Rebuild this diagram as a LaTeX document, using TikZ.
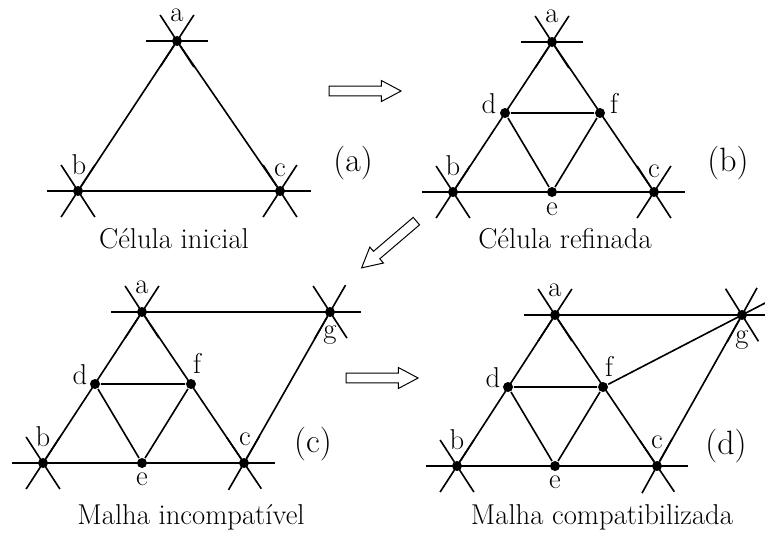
\documentclass[tikz,border=0pt]{standalone}
\usepackage{tikz,fontspec}
\usetikzlibrary{calc,shapes.arrows}

\tikzset{
  dot/.style={circle,fill,inner sep=0pt,minimum size=2.5mm},
  lbl/.style={anchor=base,inner sep=0pt,font=\fontsize{20.4}{24}\selectfont},
  tag/.style={anchor=center,inner sep=0pt,font=\fontsize{24}{28}\selectfont},
  fatarrow/.style={single arrow,draw,fill=white,line width=.7pt,inner sep=1.1mm,
    minimum height=18mm,single arrow head extend=1.4mm,single arrow tip angle=56}
}
% three short lines through a corner vertex
\newcommand{\vstar}[2][0,57,123]{\foreach \ang in {#1} \draw (#2.center) -- ++(\ang:31) (#2.center) -- ++(\ang+180:31);}

\begin{document}
\begin{tikzpicture}[x=.25mm,y=-.25mm,line width=1.15pt]
\path[use as bounding box] (0,0) rectangle (765,534);
% (a) initial cell
\node[dot] (a1) at (177,41) {};
\node[dot] (b1) at (78,191) {};
\node[dot] (c1) at (280,191) {};
\draw (a1) -- (b1) -- (c1) -- (a1);
\vstar{a1} \vstar{b1} \vstar{c1}
\node[lbl] (la1) at ($(a1)+(0,-20)$) {a};
\node[lbl] (lb1) at ($(b1)+(1,-17)$) {b};
\node[lbl] (lc1) at ($(c1)+(0,-15)$) {c};
\node[tag] (tag1) at (353,163) {(a)};
\node[lbl] (cap1) at (174,248) {Célula inicial};
% (b) refined cell
\node[dot] (a2) at (552,42) {};
\node[dot] (b2) at (453,192) {};
\node[dot] (c2) at (654,192) {};
\node[dot] (d2) at (505,113) {};
\node[dot] (e2) at (552,192) {};
\node[dot] (f2) at (600,113) {};
\draw (a2) -- (b2) -- (c2) -- (a2);
\draw (d2) -- (f2) -- (e2) -- (d2);
\vstar{a2} \vstar{b2} \vstar{c2}
\node[lbl] (la2) at ($(a2)+(0,-20)$) {a};
\node[lbl] (lb2) at ($(b2)+(0,-17)$) {b};
\node[lbl] (lc2) at ($(c2)+(0,-15)$) {c};
\node[lbl] (ld2) at ($(d2)+(-16,0)$) {d};
\node[lbl] (le2) at ($(e2)+(0,23)$) {e};
\node[lbl] (lf2) at ($(f2)+(14,0)$) {f};
\node[tag] (tag2) at (728,163) {(b)};
\node[lbl] (cap2) at (565,248) {Célula refinada};
% (c) incompatible mesh
\node[dot] (a3) at (142,312) {};
\node[dot] (b3) at (43,463) {};
\node[dot] (c3) at (244,463) {};
\node[dot] (d3) at (95,384) {};
\node[dot] (e3) at (142,463) {};
\node[dot] (f3) at (191,384) {};
\node[dot] (g3) at (330,312) {};
\draw (a3) -- (b3) -- (c3) -- (a3);
\draw (d3) -- (f3) -- (e3) -- (d3);
\draw (a3) -- (g3) -- (c3);
\vstar{a3} \vstar{b3} \vstar[0,56,120]{c3} \vstar[0,57,120]{g3}
\node[lbl] (la3) at ($(a3)+(0,-19)$) {a};
\node[lbl] (lb3) at ($(b3)+(0,-17)$) {b};
\node[lbl] (lc3) at ($(c3)+(1,-18)$) {c};
\node[lbl] (ld3) at ($(d3)+(-15,0)$) {d};
\node[lbl] (le3) at ($(e3)+(0,22)$) {e};
\node[lbl] (lf3) at ($(f3)+(6,-11)$) {f};
\node[lbl] (lg3) at ($(g3)+(0,26)$) {g};
\node[tag] (tag3) at (313,444) {(c)};
\node[lbl] (cap3) at (191,524) {Malha incompatível};
% (d) compatible mesh
\node[dot] (a4) at (555,315) {};
\node[dot] (b4) at (457,466) {};
\node[dot] (c4) at (657,466) {};
\node[dot] (d4) at (508,387) {};
\node[dot] (e4) at (555,466) {};
\node[dot] (f4) at (603,387) {};
\node[dot] (g4) at (742,315) {};
\draw (a4) -- (b4) -- (c4) -- (a4);
\draw (d4) -- (f4) -- (e4) -- (d4);
\draw (a4) -- (g4) -- (c4);
\draw (f4) -- ($(f4)!1.2!(g4)$);
\vstar{a4} \vstar{b4} \vstar[0,56,119]{c4} \vstar[0,58,119]{g4}
\node[lbl] (la4) at ($(a4)+(0,-19)$) {a};
\node[lbl] (lb4) at ($(b4)+(0,-17)$) {b};
\node[lbl] (lc4) at ($(c4)+(0,-18)$) {c};
\node[lbl] (ld4) at ($(d4)+(-15,0)$) {d};
\node[lbl] (le4) at ($(e4)+(0,22)$) {e};
\node[lbl] (lf4) at ($(f4)+(6,-11)$) {f};
\node[lbl] (lg4) at ($(g4)+(0,28)$) {g};
\node[tag] (tag4) at (726,446) {(d)};
\node[lbl] (cap4) at (602,524) {Malha compatibilizada};
% hollow arrows between the steps
\node[fatarrow] (arr1) at (360.5,91) {};
\node[fatarrow,rotate=220.5] (arr2) at (392.5,241.5) {};
\node[fatarrow] (arr3) at (377.5,378) {};
\end{tikzpicture}
\end{document}
